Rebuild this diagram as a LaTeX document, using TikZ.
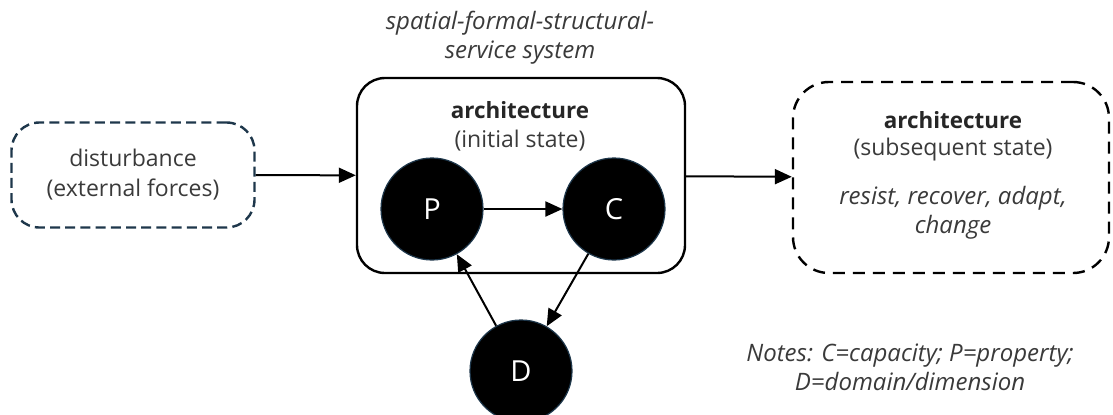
\documentclass[tikz,border=0pt]{standalone}
\usepackage{fontspec}
\setmainfont{Open Sans}
\usetikzlibrary{arrows.meta}
\definecolor{ink}{RGB}{58,58,58}
\definecolor{navy}{RGB}{30,55,75}

\begin{document}
\begin{tikzpicture}[x=0.5pt,y=-0.5pt,
  box/.style={rounded corners=14pt, line width=1.2pt, inner sep=0pt},
  state/.style={circle, fill=black, draw=navy, line width=0.6pt, minimum size=51pt, inner sep=0pt, text=white, font=\fontsize{14.5}{16}\selectfont},
  link/.style={-{Triangle[length=8.5pt,width=7.5pt]}, line width=1pt},
  txt/.style={text=ink, align=center, font=\fontsize{11.5}{15}\selectfont},
  slant/.style={txt, font=\fontsize{12}{14.5}\selectfont\itshape},
  head/.style={txt, text=black!85, font=\fontsize{11.2}{13}\selectfont\bfseries}]
\useasboundingbox (0,0) rectangle (1113,414);
\clip (0,0) rectangle (1113,414);
% left: the outside push
\node[box, txt, draw=navy, dash pattern=on 5pt off 2.6pt, minimum width=121.5pt, minimum height=52.5pt] (dist) at (133,175) {disturbance\\(external forces)};
% middle: the system before the push
\node[slant] (sys) at (520,38) {spatial-formal-structural-\\service system};
\node[box, draw=black, minimum width=164pt, minimum height=97.5pt] (arch) at (521,175.5) {};
\node[head] (archtitle) at (520,110) {architecture};
\node[txt] (archstate) at (520,141) {(initial state)};
\node[state] (P) at (432,209) {P};
\node[state] (C) at (614,209) {C};
\node[state] (D) at (521,371) {D};
% right: the system after
\node[box, draw=black, rounded corners=18pt, dash pattern=on 6pt off 4pt, minimum width=158pt, minimum height=95.5pt] (next) at (951,177.5) {};
\node[head] (nexttitle) at (953,120) {architecture};
\node[txt] (nextstate) at (953,150) {(subsequent state)};
\node[slant] (moves) at (953,212.5) {resist, recover, adapt,\\change};
\node[slant] (notes) at (910,367) {Notes: C=capacity; P=property;\\D=domain/dimension};
% connectors
\draw[link] (dist) -- (arch);
\draw[link] (arch) -- (next);
\draw[link] (P) -- (C);
\draw[link] (C) -- (D);
\draw[link] (D) -- (P);
\end{tikzpicture}
\end{document}
